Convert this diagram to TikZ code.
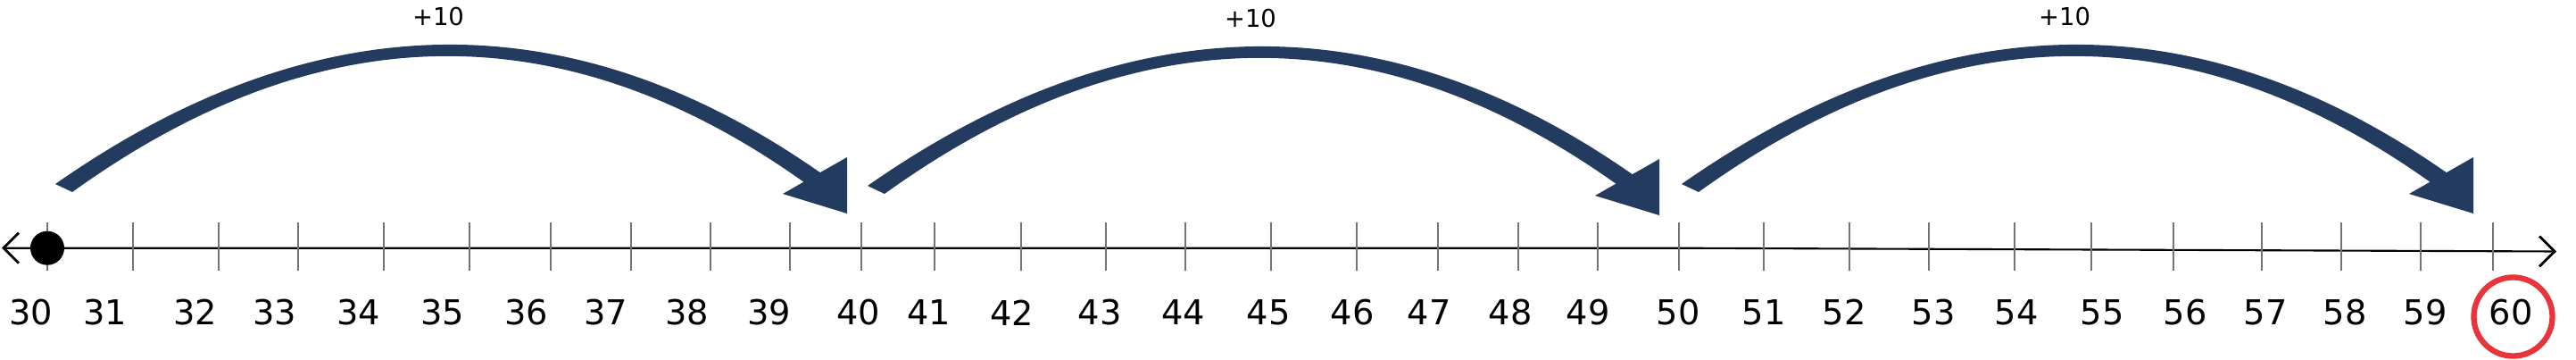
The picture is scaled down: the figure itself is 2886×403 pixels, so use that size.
\documentclass[tikz,border=0pt]{standalone}
\usepackage{fontspec}
\setmainfont{DejaVu Sans}
\usetikzlibrary{arrows.meta}
\definecolor{jumpblue}{HTML}{223B5F}
\definecolor{ringred}{HTML}{E8343A}
\tikzset{
  axisline/.style ={line width=0.6pt,
                    {Straight Barb[length=0.17cm,width=0.34cm,line width=0.8pt]}-{Straight Barb[length=0.17cm,width=0.34cm,line width=0.8pt]}},
  tickmark/.style ={draw=black!55, line width=0.4pt},
  numlbl/.style   ={font=\fontsize{10.9}{13}\selectfont, inner sep=0pt},
  steplbl/.style  ={font=\fontsize{7.8}{9}\selectfont, inner sep=0pt},
  jump/.style     ={fill=jumpblue},
  startdot/.style ={circle, fill=black, minimum size=0.38cm, inner sep=0pt},
  answer/.style   ={circle, draw=ringred, line width=1.8pt, minimum size=0.88cm, inner sep=0pt},
}

\begin{document}
\begin{tikzpicture}[x=0.01cm, y=0.01cm]
\useasboundingbox (0,0) rectangle (2886,403);

% number line
\coordinate (axl) at (2,125.3);
\coordinate (axm) at (1880,125.3);
\coordinate (axr) at (2864,121.5);
\draw[axisline] (axl) -- (axm) -- (axr);

% ticks and numbers
\foreach \n/\tx/\lx in {30/53/35, 31/149/118, 32/245/219, 33/334/308, 34/430/402,
    35/526/496, 36/617/590, 37/707/679, 38/796/770, 39/885/862, 40/965/962,
    41/1047/1041, 42/1144/1134, 43/1239/1232, 44/1328/1326, 45/1424/1421,
    46/1520/1515, 47/1611/1601, 48/1701/1692, 49/1790/1779, 50/1881/1880,
    51/1976/1976, 52/2072/2066, 53/2161/2166, 54/2257/2259, 55/2343/2355,
    56/2435/2448, 57/2534/2538, 58/2623/2627, 59/2712/2717, 60/2793/2813}{
  \draw[tickmark] (\tx,100) -- (\tx,154);
  \node[numlbl] (n\n) at (\lx,53) {\n};
}

\node[startdot] (start) at (53,125.3) {};
\node[answer] (ring) at (2815.5,48.5) {};

% jumps of ten (tapered shaft + head)
\foreach \ox/\oy/\j in {0/0/a, 910/-2/b, 1822/0/c}{
  \begin{scope}[shift={(\ox,\oy)}]
    \coordinate (t\j1) at (62,197);
    \coordinate (t\j2) at (81,188);
    \coordinate (e\j1) at (920,209);
    \coordinate (e\j2) at (905,196);
    \fill[jump] (t\j1) .. controls (354,401) and (640,405) .. (e\j1)
      -- (e\j2) .. controls (634,391) and (359,388) .. (t\j2) -- cycle;
    \fill[jump] (949,227) -- (949,164) -- (877,186) -- cycle;
    \node[steplbl] (p\j) at (491,384) {+10};
  \end{scope}
}
\end{tikzpicture}
\end{document}
